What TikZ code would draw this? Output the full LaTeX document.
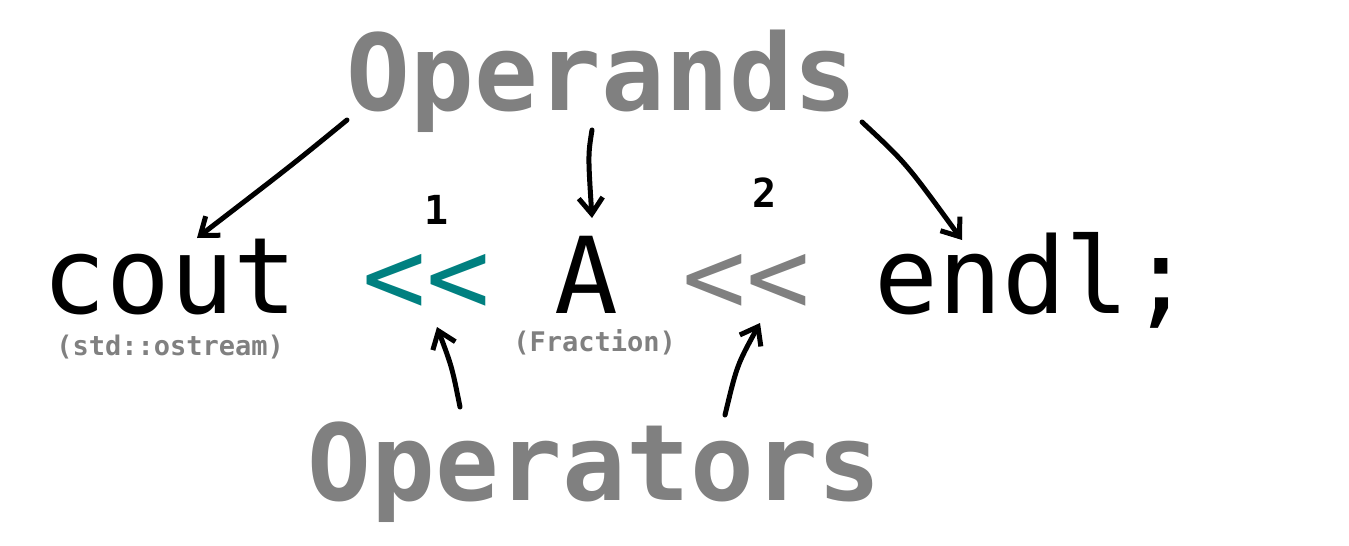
\documentclass[tikz,border=0pt]{standalone}
\usepackage{fontspec}
\setmonofont{DejaVu Sans Mono}
\usepackage{xcolor}
\usepackage{tikz}
\usetikzlibrary{arrows.meta}
\definecolor{opgray}{RGB}{128,128,128}
\definecolor{opteal}{RGB}{0,128,128}
\tikzstyle{codetext} = [inner sep=0pt, anchor=base west, text depth=0pt, font=\ttfamily\fontsize{53}{60}\selectfont]
\tikzstyle{bigword} = [inner sep=0pt, anchor=base west, text=opgray, font=\ttfamily\bfseries\fontsize{53}{60}\selectfont]
\tikzstyle{typenote} = [inner sep=0pt, anchor=base west, text=opgray, font=\ttfamily\bfseries\fontsize{13.5}{15}\selectfont]
\tikzstyle{handnum} = [inner sep=0pt, font=\ttfamily\bfseries\fontsize{20}{22}\selectfont]
\tikzstyle{arrow} = [line width=2.5pt, line cap=round, line join=round, -{Straight Barb[length=8pt,width=12pt]}]

\begin{document}
\begin{tikzpicture}[x=0.5pt, y=-0.5pt]
    \useasboundingbox (0,0) rectangle (1349,546);
    % code line
    \node (cout) [codetext] at (42,313) {cout};
    \node (opone) [codetext, text=opteal] at (362,313) {<<};
    \node (fracA) [codetext] at (554,313) {A};
    \node (optwo) [codetext, text=opgray] at (682,313) {<<};
    \node (endl) [codetext] at (874,313) {endl;};
    % type notes
    \node (ostream) [typenote] at (56,355) {(std::ostream)};
    \node (fraction) [typenote] at (513,351) {(Fraction)};
    % numbers
    \node (numone) [handnum] at (437,210) {1};
    \node (numtwo) [handnum] at (765,193) {2};
    % headings
    \node (opds) [bigword] at (346,110) {Operands};
    \node (oprs) [bigword] at (307,500) {Operators};

    \draw [arrow] ([shift={(1,10)}]opds.base west) .. controls ([shift={(-54,55)}]opds.base west) .. ([shift={(155,-75)}]cout.base west);
    \draw [arrow] ([shift={(246,20)}]opds.base west) .. controls ([shift={(242,45)}]opds.base west) .. ([shift={(38,-95)}]fracA.base west);
    \draw [arrow] ([shift={(516,12)}]opds.base west) .. controls ([shift={(560,53)}]opds.base west) .. ([shift={(88,-73)}]endl.base west);
    \draw [arrow] ([shift={(153,-93)}]oprs.base west) .. controls ([shift={(145,-133)}]oprs.base west) .. ([shift={(75,14)}]opone.base west);
    \draw [arrow] ([shift={(418,-85)}]oprs.base west) .. controls ([shift={(430,-135)}]oprs.base west) .. ([shift={(78,10)}]optwo.base west);
\end{tikzpicture}
\end{document}
